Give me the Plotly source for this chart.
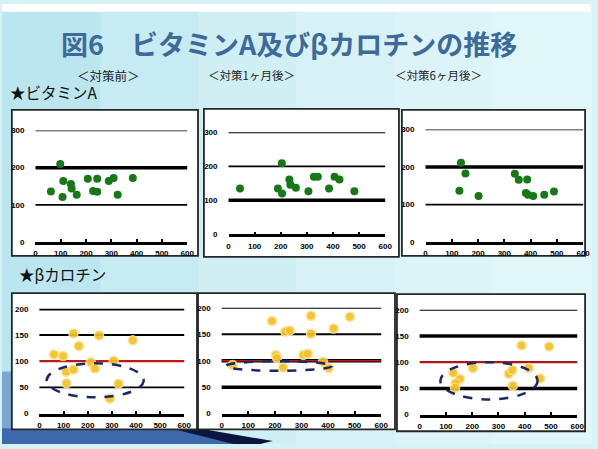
import plotly.graph_objects as go

W, H = 598, 449

# ---- data -------------------------------------------------------------
# Vitamin A, before / 1 month after / 6 months after
va0_x = [98, 61, 110, 107, 140, 143, 163, 207, 244, 228, 244, 290, 309, 325, 385]
va0_y = [210, 136, 164, 121, 156, 144, 127, 170, 170, 137, 135, 164, 172, 127, 172]
va1_x = [44, 204, 189, 205, 233, 237, 258, 306, 327, 342, 385, 406, 425, 482]
va1_y = [135, 209, 135, 120, 161, 146, 137, 127, 169, 169, 135, 169, 161, 127]
va6_x = [135, 129, 152, 202, 340, 355, 387, 382, 390, 410, 452, 489]
va6_y = [211, 137, 183, 123, 182, 166, 167, 131, 126, 123, 126, 135]

# beta-carotene, before / 1 month after / 6 months after
bc0_x = [60, 98, 141, 163, 247, 387, 111, 141, 112, 213, 230, 308, 328, 292]
bc0_y = [113, 110, 153, 129, 149, 140, 80, 84, 58, 98, 86, 101, 57, 29]
bc1_x = [189, 336, 482, 239, 256, 336, 421, 204, 208, 307, 324, 41, 231, 381, 402]
bc1_y = [175, 185, 183, 155, 157, 151, 161, 111, 105, 111, 113, 92, 87, 98, 86]
bc6_x = [388, 493, 203, 128, 153, 137, 135, 340, 353, 355, 415, 459]
bc6_y = [132, 130, 89, 80, 68, 60, 51, 78, 85, 55, 89, 69]

x_ticks = [0, 100, 200, 300, 400, 500, 600]
va_ticks = [0, 100, 200, 300]
bc_ticks = [0, 50, 100, 150, 200]

section_titles = ["＜対策前＞", "＜対策1ヶ月後＞", "＜対策6ヶ月後＞"]


def px(x):
    return x / W


def py(y):
    return 1 - y / H


# panel geometry in pixels: plot area and surrounding white box
panels = [
    dict(plot=(34, 188, 129, 243), box=(10, 199, 108, 257)),
    dict(plot=(230, 389, 131, 235), box=(205, 403, 107, 258)),
    dict(plot=(430, 590, 128, 243), box=(406, 592, 108, 257)),
    dict(plot=(38, 185, 311, 418), box=(10, 198, 295, 434)),
    dict(plot=(223, 385, 310, 418), box=(199, 399, 295, 434)),
    dict(plot=(424, 584, 312, 419), box=(401, 592, 296, 436)),
]

series = [(va0_x, va0_y), (va1_x, va1_y), (va6_x, va6_y),
          (bc0_x, bc0_y), (bc1_x, bc1_y), (bc6_x, bc6_y)]

THIN, THICK = 1.8, 3.5
# horizontal reference lines per panel: (value, color, width)
ref_lines = [
    [(300, "#000", THIN), (200, "#000", THICK), (100, "#000", THIN)],
    [(300, "#000", THIN), (200, "#000", THIN), (100, "#000", THICK)],
    [(300, "#000", THIN), (200, "#000", THICK), (100, "#000", THIN)],
    [(200, "#000", THICK), (150, "#000", THIN), (100, "#c01818", 2.2), (50, "#000", THIN)],
    [(200, "#000", THIN), (150, "#000", THIN), (100, "#000", THICK), (100, "#c01818", 1.5), (50, "#000", THICK)],
    [(200, "#000", THIN), (150, "#000", THICK), (100, "#b01515", 2.2), (50, "#000", THICK)],
]

# dashed ellipses marking the low-value groups (panel index, x0, x1, y0, y1)
ellipses = [
    (3, 30, 432, 31, 96),
    (4, 16, 414, 81, 99),
    (5, 79, 449, 29, 100),
]

fig = go.Figure()
shapes = []

# ---- slide background ----
bg_bands = ["#bce6ef", "#c6ebf2", "#cfeff5", "#d6f2f7", "#dcf4f8", "#e1f6f9"]
bw = W / len(bg_bands)
for i, c in enumerate(bg_bands):
    shapes.append(dict(type="rect", xref="paper", yref="paper", layer="below",
                       x0=px(i * bw), x1=px((i + 1) * bw + 1), y0=py(H), y1=py(8),
                       fillcolor=c, line=dict(width=0)))
shapes.append(dict(type="rect", xref="paper", yref="paper", layer="below",
                   x0=0, x1=1, y0=py(8), y1=1, fillcolor="#ffffff", line=dict(width=0)))


def path(points):
    return "M " + " L ".join(f"{px(a):.4f},{py(b):.4f}" for a, b in points) + " Z"


# swoosh at the bottom left
shapes.append(dict(type="path", xref="paper", yref="paper", layer="below",
                   path=path([(0, 375), (10, 375), (10, 449), (0, 449)]),
                   fillcolor="#7aa6d2", line=dict(width=0)))
shapes.append(dict(type="path", xref="paper", yref="paper", layer="below",
                   path=path([(0, 433), (200, 433), (265, 449), (0, 449)]),
                   fillcolor="#3d68aa", line=dict(width=0)))
shapes.append(dict(type="path", xref="paper", yref="paper", layer="below",
                   path=path([(175, 434), (205, 434), (275, 446), (262, 449), (235, 449)]),
                   fillcolor="#0b1640", line=dict(width=0)))

# white panel boxes
for p in panels:
    bx0, bx1, by0, by1 = p["box"]
    shapes.append(dict(type="rect", xref="paper", yref="paper", layer="below",
                       x0=px(bx0), x1=px(bx1), y0=py(by1), y1=py(by0),
                       fillcolor="#ffffff", line=dict(color="#262626", width=1.8)))

tick_font = dict(size=8, color="#000", family="Liberation Sans", weight="bold")

layout_axes = {}
for i, (p, (xs, ys)) in enumerate(zip(panels, series)):
    n = i + 1
    sx = "" if n == 1 else str(n)
    x0, x1, y0, y1 = p["plot"]
    is_va = i < 3
    ymax = 300 if is_va else 200
    layout_axes[f"xaxis{sx}"] = dict(
        domain=[px(x0), px(x1)], range=[0, 600], anchor=f"y{sx}",
        tickvals=x_ticks, ticks="inside", ticklen=3, tickwidth=2, tickcolor="#000",
        showline=True, linecolor="#000", linewidth=2.5, showgrid=False, zeroline=False,
        tickfont=tick_font, ticklabelstandoff=2,
    )
    layout_axes[f"yaxis{sx}"] = dict(
        domain=[py(y1), py(y0)], range=[0, ymax], anchor=f"x{sx}",
        tickvals=va_ticks if is_va else bc_ticks, ticks="", showline=False,
        showgrid=False, zeroline=False, tickfont=tick_font, ticklabelstandoff=10,
    )
    for val, col, wid in ref_lines[i]:
        shapes.append(dict(type="line", xref=f"x{sx} domain", yref=f"y{sx}",
                           x0=0, x1=1, y0=val, y1=val, layer="below",
                           line=dict(color=col, width=wid)))
    if is_va:
        marker = dict(color="#167816", size=8, line=dict(width=0))
    else:
        marker = dict(color="#f5bf22", size=9, opacity=0.92,
                      line=dict(color="#fbe08c", width=1.5))
    fig.add_trace(go.Scatter(x=xs, y=ys, mode="markers", marker=marker,
                             xaxis=f"x{sx}", yaxis=f"y{sx}", showlegend=False,
                             hoverinfo="skip"))

for idx, ex0, ex1, ey0, ey1 in ellipses:
    sx = str(idx + 1)
    shapes.append(dict(type="circle", xref=f"x{sx}", yref=f"y{sx}",
                       x0=ex0, x1=ex1, y0=ey0, y1=ey1, layer="above",
                       line=dict(color="#1b2a66", width=2.5, dash="dash")))

annotations = [
    dict(text="<b>図6　ビタミンA及びβカロチンの推移</b>", x=px(291), y=py(40),
         font=dict(size=27, color="#3d6a9a", family="Noto Sans CJK JP")),
    dict(text=section_titles[0], x=px(108), y=py(72.5),
         font=dict(size=12.5, color="#222", family="Noto Sans CJK JP")),
    dict(text=section_titles[1], x=px(253), y=py(72.5),
         font=dict(size=11.5, color="#222", family="Noto Sans CJK JP")),
    dict(text=section_titles[2], x=px(443), y=py(72.5),
         font=dict(size=11.5, color="#222", family="Noto Sans CJK JP")),
    dict(text="★ビタミンA", x=px(6), y=py(90), xanchor="left",
         font=dict(size=15.5, color="#111", family="Noto Sans CJK JP")),
    dict(text="★βカロチン", x=px(15), y=py(276), xanchor="left",
         font=dict(size=15.5, color="#111", family="Noto Sans CJK JP")),
]
for a in annotations:
    a.update(xref="paper", yref="paper", showarrow=False)
    a.setdefault("xanchor", "center")
    a["yanchor"] = "middle"

fig.update_layout(
    width=W, height=H, margin=dict(l=0, r=0, t=0, b=0),
    paper_bgcolor="#d6f2f7", plot_bgcolor="rgba(0,0,0,0)",
    shapes=shapes, annotations=annotations, showlegend=False,
    **layout_axes,
)

fig.write_html("out.html")
